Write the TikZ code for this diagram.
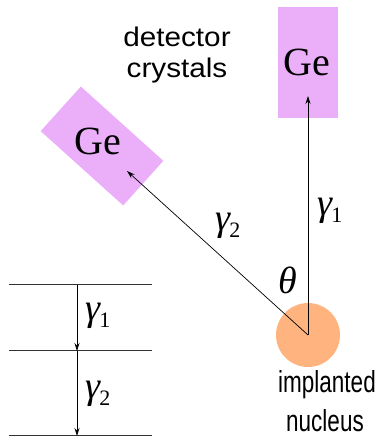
\documentclass[tikz,border=0pt]{standalone}
\usepackage{fontspec}
\setmainfont{Liberation Serif}
\setsansfont{Liberation Sans}
\usetikzlibrary{arrows.meta}
\definecolor{crystal}{RGB}{235,175,250}
\definecolor{nucleuscol}{RGB}{255,180,128}
\newcommand\gsub[1]{{\fontsize{38}{38}\selectfont\itshape γ}\kern-1pt\raisebox{-7pt}{\fontsize{22}{22}\selectfont #1}}
\begin{document}
\begin{tikzpicture}[x=1pt,y=1pt,
  ge/.style={fill=crystal,draw=none,inner sep=0pt,minimum width=60pt,minimum height=111pt},
  getext/.style={inner sep=0pt,font=\fontsize{40}{40}\selectfont},
  ray/.style={line width=0.7pt,-{Stealth[length=8pt,width=5pt]}},
  level/.style={line width=1pt,draw=black!80},
  greek/.style={inner sep=0pt},
  lbl/.style={inner sep=0pt,anchor=base}]
\useasboundingbox (0,0) rectangle (379,438);
% crystals
\node[ge] (ge1) at (308,375.5) {};
\node[getext] (ge1t) at (307,375.5) {Ge};
\node[ge,minimum width=111pt,minimum height=60pt,rotate=-42] (ge2) at (102,292) {};
\node[getext] (ge2t) at (98,297) {Ge};
% nucleus
\node[circle,fill=nucleuscol,minimum size=64pt,inner sep=0pt] (nuc) at (308,103) {};
\coordinate (t1) at (308,342);
\coordinate (t2) at (127,267);
\draw[ray] (nuc.center) -- (t1);
\draw[ray] (nuc.center) -- (t2);
\node[greek] (g1) at (330,227) {\gsub{1}};
\node[greek] (g2) at (228,212) {\gsub{2}};
\node[greek] (th) at (288,158) {\fontsize{38}{38}\selectfont\itshape θ};
% labels
\node[lbl] (det1) at (177,391) {\scalebox{1.1}[1]{\sffamily\fontsize{27}{27}\selectfont detector}};
\node[lbl] (det2) at (177,360) {\scalebox{1.1}[1]{\sffamily\fontsize{27}{27}\selectfont crystals}};
\node[lbl] (imp1) at (327,45) {\scalebox{1}[1.35]{\sffamily\fontsize{22.5}{22.5}\selectfont implanted}};
\node[lbl] (imp2) at (325,7) {\scalebox{1}[1.35]{\sffamily\fontsize{22.5}{22.5}\selectfont nucleus}};
% level scheme
\coordinate (l1a) at (9,153); \coordinate (l1b) at (152,153);
\coordinate (l2a) at (9,87);  \coordinate (l2b) at (152,87);
\coordinate (l3a) at (9,2);   \coordinate (l3b) at (152,2);
\draw[level] (l1a) -- (l1b);
\draw[level] (l2a) -- (l2b);
\draw[level] (l3a) -- (l3b);
\coordinate (a1) at (77,153); \coordinate (a2) at (77,87); \coordinate (a3) at (77,2);
\draw[ray] (a1) -- (a2);
\draw[ray] (a2) -- (a3);
\node[greek] (e1) at (98,122) {\gsub{1}};
\node[greek] (e2) at (98,44) {\gsub{2}};
\end{tikzpicture}
\end{document}
